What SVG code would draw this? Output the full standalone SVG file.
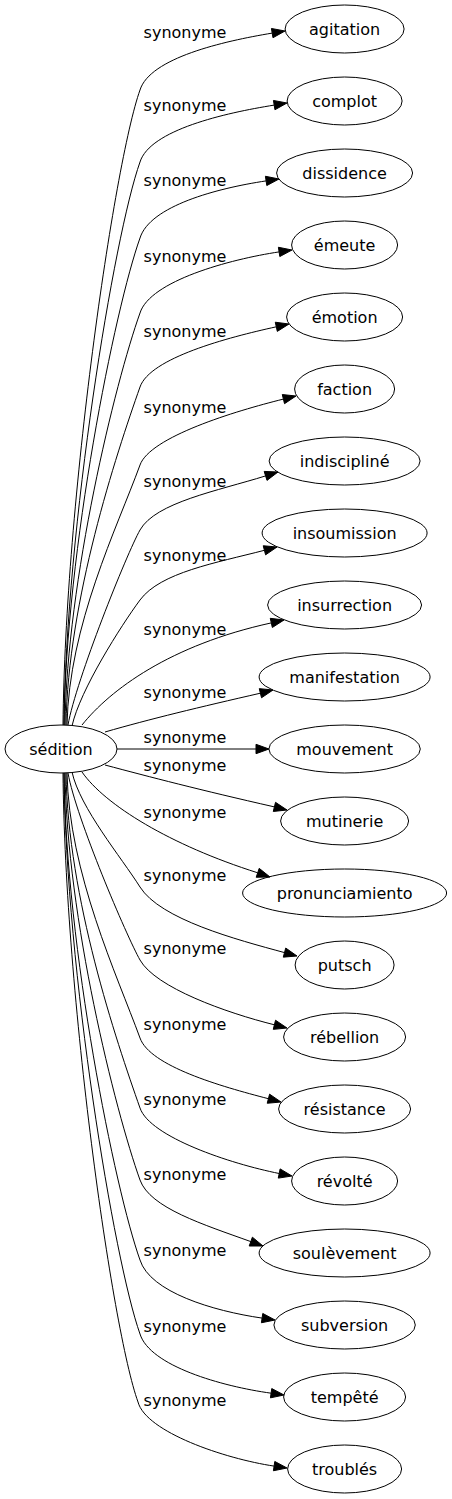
<svg xmlns="http://www.w3.org/2000/svg" width="452" height="1499" viewBox="0 0 452 1499">
<style>
.n ellipse{fill:none;stroke:#000;stroke-width:1}
.n text{font-family:"DejaVu Sans",sans-serif;font-size:16px;fill:#000;text-anchor:middle}
#edges path{fill:none;stroke:#000;stroke-width:1}
#edges polygon{fill:#000;stroke:#000;stroke-width:1}
#edges text{font-family:"DejaVu Sans",sans-serif;font-size:16px;fill:#000;text-anchor:middle}
</style>
<rect width="452" height="1499" fill="#fff"/>
<g id="edges">
<path d="M63,725 C65,503 114,163 140,90 C150,58 222.9,41.3 272.2,33.1"/><polygon points="272.97,37.73 285,31 271.43,28.47"/><text x="185" y="38">synonyme</text>
<path d="M64,725 C66,528 114,235 140,162 C150,130 224.8,113 274.2,105.1"/><polygon points="274.95,109.74 287,103 273.45,100.46"/><text x="185" y="111">synonyme</text>
<path d="M64,725 C66,550 115,308 140,238 C150,206 216.7,188.3 266.1,180.9"/><polygon points="266.79,185.55 279,179 265.41,176.25"/><text x="185" y="186">synonyme</text>
<path d="M65,725 C67,580 115,383 140,313 C150,281 229.7,259.3 279.1,251.9"/><polygon points="279.8,256.55 292,250 278.4,247.25"/><text x="185" y="262">synonyme</text>
<path d="M66,725 C68,600 116,455 140,387 C150,358 227.5,337.5 276.3,326.8"/><polygon points="277.31,331.39 289,324 275.29,322.21"/><text x="185" y="337">synonyme</text>
<path d="M67,725 C69,625 117,528 140,465 C150,437 234.8,411.1 283.4,399.1"/><polygon points="284.52,403.66 296,396 282.28,394.54"/><text x="185" y="413">synonyme</text>
<path d="M68,725 C76,680 127,553 140,530 C155.6,502.4 217.9,490.8 265.6,475.9"/><polygon points="267.01,480.38 278,472 264.19,471.42"/><text x="185" y="487">synonyme</text>
<path d="M72,726 C80,690 121.3,625.3 140,600 C160.4,572.4 216,562.9 264.4,550.3"/><polygon points="265.58,554.85 277,547 263.22,545.75"/><text x="185" y="561">synonyme</text>
<path d="M82,725 C110,690 170,645 271.3,622.9"/><polygon points="272.34,627.48 284,620 270.26,618.32"/><text x="185" y="635">synonyme</text>
<path d="M105,732 C150,719 200,707 260.4,693.2"/><polygon points="261.54,697.76 273,690 259.26,688.64"/><text x="185" y="698">synonyme</text>
<path d="M117,749 L256,749"/><polygon points="256,753.7 269,749 256,744.3"/><text x="185" y="743">synonyme</text>
<path d="M105,765 C150,777 200,790 274.4,806.9"/><polygon points="273.27,811.46 287,810 275.53,802.34"/><text x="185" y="771">synonyme</text>
<path d="M82,772 C105,805 170,845 257.7,872.8"/><polygon points="256.2,877.25 270,877 259.2,868.35"/><text x="185" y="818">synonyme</text>
<path d="M72,772 C80,808 121.3,857.3 140,887 C160.4,919.4 236.3,939.5 284.5,952.6"/><polygon points="283.27,957.14 297,956 285.73,948.06"/><text x="185" y="881">synonyme</text>
<path d="M68,773 C76,818 127,937 140,960 C155.6,987.6 225.9,1012.7 274.4,1024.8"/><polygon points="273.26,1029.36 287,1028 275.54,1020.24"/><text x="185" y="954">synonyme</text>
<path d="M67,773 C69,873 117,975 140,1038 C150,1066 220,1086.2 268.4,1098.7"/><polygon points="267.22,1103.25 281,1102 269.58,1094.15"/><text x="185" y="1030">synonyme</text>
<path d="M66,773 C68,898 116,1040 140,1108 C150,1137 230.2,1163.7 279.2,1173.5"/><polygon points="278.28,1178.11 292,1176 280.12,1168.89"/><text x="185" y="1105">synonyme</text>
<path d="M65,773 C67,918 115,1110 140,1180 C150,1208 203.8,1224.6 250.8,1241.6"/><polygon points="249.2,1246.02 263,1246 252.4,1237.18"/><text x="185" y="1180">synonyme</text>
<path d="M64,773 C66,948 115,1190 140,1260 C150,1292 212.6,1310.9 262.1,1318.1"/><polygon points="261.42,1322.75 275,1320 262.78,1313.45"/><text x="185" y="1256">synonyme</text>
<path d="M64,773 C66,970 114,1261 140,1334 C150,1366 221.6,1386.3 271.1,1393.2"/><polygon points="270.45,1397.85 284,1395 271.75,1388.55"/><text x="185" y="1332">synonyme</text>
<path d="M63,773 C65,995 112,1330 138,1402 C146,1432 224.7,1458.7 274.1,1466.1"/><polygon points="273.41,1470.75 287,1468 274.79,1461.45"/><text x="185" y="1406">synonyme</text>
</g>
<g id="node-sedition" class="n"><ellipse cx="61" cy="749" rx="56" ry="24"/><text x="61" y="755">sédition</text></g>
<g id="node-agitation" class="n"><ellipse cx="344.6" cy="29" rx="59.5" ry="24"/><text x="344.6" y="35">agitation</text></g>
<g id="node-complot" class="n"><ellipse cx="344.6" cy="101" rx="57.5" ry="24"/><text x="344.6" y="107">complot</text></g>
<g id="node-dissidence" class="n"><ellipse cx="344.6" cy="173" rx="68" ry="24"/><text x="344.6" y="179">dissidence</text></g>
<g id="node-emeute" class="n"><ellipse cx="344.6" cy="245" rx="53" ry="24"/><text x="344.6" y="251">émeute</text></g>
<g id="node-emotion" class="n"><ellipse cx="344.6" cy="317" rx="58" ry="24"/><text x="344.6" y="323">émotion</text></g>
<g id="node-faction" class="n"><ellipse cx="344.6" cy="389" rx="50" ry="24"/><text x="344.6" y="395">faction</text></g>
<g id="node-indiscipline" class="n"><ellipse cx="344.6" cy="461" rx="75.5" ry="24"/><text x="344.6" y="467">indiscipliné</text></g>
<g id="node-insoumission" class="n"><ellipse cx="344.6" cy="533" rx="82.5" ry="24"/><text x="344.6" y="539">insoumission</text></g>
<g id="node-insurrection" class="n"><ellipse cx="344.6" cy="605" rx="77" ry="24"/><text x="344.6" y="611">insurrection</text></g>
<g id="node-manifestation" class="n"><ellipse cx="344.6" cy="677" rx="85.5" ry="24"/><text x="344.6" y="683">manifestation</text></g>
<g id="node-mouvement" class="n"><ellipse cx="344.6" cy="749" rx="75.7" ry="24"/><text x="344.6" y="755">mouvement</text></g>
<g id="node-mutinerie" class="n"><ellipse cx="344.6" cy="821" rx="64" ry="24"/><text x="344.6" y="827">mutinerie</text></g>
<g id="node-pronunciamiento" class="n"><ellipse cx="344.6" cy="893" rx="102" ry="24"/><text x="344.6" y="899">pronunciamiento</text></g>
<g id="node-putsch" class="n"><ellipse cx="344.6" cy="965" rx="49.5" ry="24"/><text x="344.6" y="971">putsch</text></g>
<g id="node-rebellion" class="n"><ellipse cx="344.6" cy="1037" rx="61" ry="24"/><text x="344.6" y="1043">rébellion</text></g>
<g id="node-resistance" class="n"><ellipse cx="344.6" cy="1109" rx="66" ry="24"/><text x="344.6" y="1115">résistance</text></g>
<g id="node-revolte" class="n"><ellipse cx="344.6" cy="1181" rx="53" ry="24"/><text x="344.6" y="1187">révolté</text></g>
<g id="node-soulevement" class="n"><ellipse cx="344.6" cy="1253" rx="85.5" ry="24"/><text x="344.6" y="1259">soulèvement</text></g>
<g id="node-subversion" class="n"><ellipse cx="344.6" cy="1325" rx="70.7" ry="24"/><text x="344.6" y="1331">subversion</text></g>
<g id="node-tempete" class="n"><ellipse cx="344.6" cy="1397" rx="61" ry="24"/><text x="344.6" y="1403">tempêté</text></g>
<g id="node-troubles" class="n"><ellipse cx="344.6" cy="1469" rx="57" ry="24"/><text x="344.6" y="1475">troublés</text></g>
</svg>
